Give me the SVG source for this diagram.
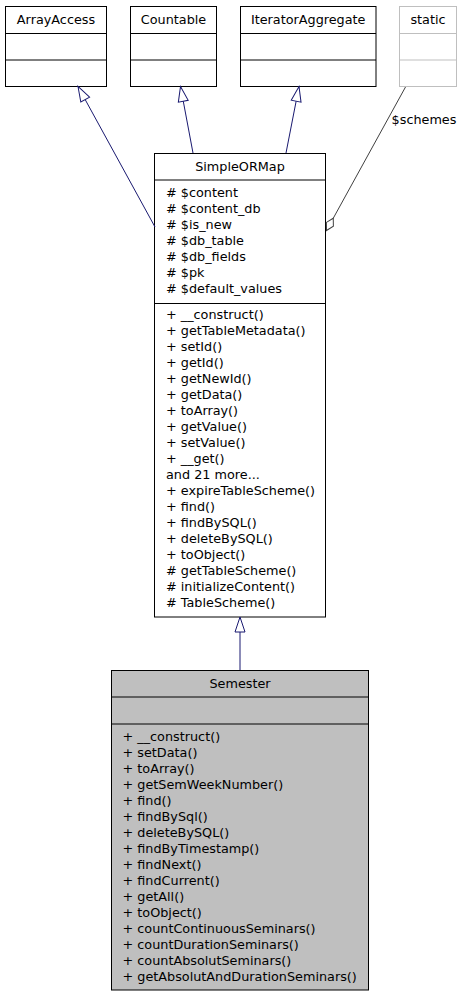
<svg xmlns="http://www.w3.org/2000/svg" width="463" height="997" viewBox="0 0 463 997">
<style>
text{font-family:"DejaVu Sans","Liberation Sans",sans-serif;font-size:12.8px;fill:#000}
.c{text-anchor:middle}
.box{fill:#fff;stroke:#000;stroke-width:1}
.gbox{fill:#fff;stroke:#bfbfbf;stroke-width:1}
.sbox{fill:#bfbfbf;stroke:#000;stroke-width:1}
.ln{stroke:#000;stroke-width:1}
.gln{stroke:#bfbfbf;stroke-width:1}
.inh{stroke:#191970;stroke-width:1;fill:none;marker-end:url(#tri)}
.agg{stroke:#404040;stroke-width:1;fill:none;marker-end:url(#dia)}
</style>
<defs>
<marker id="tri" markerUnits="userSpaceOnUse" markerWidth="18" markerHeight="14" refX="15" refY="7" orient="auto" overflow="visible">
<path d="M0,2 L15,7 L0,12 z" fill="#fff" stroke="#191970" stroke-width="1"/>
</marker>
<marker id="dia" markerUnits="userSpaceOnUse" markerWidth="16" markerHeight="12" refX="14" refY="6" orient="auto" overflow="visible">
<path d="M0,6 L7,2 L14,6 L7,10 z" fill="#fff" stroke="#404040" stroke-width="1"/>
</marker>
</defs>

<g id="ArrayAccess">
<rect class="box" x="5.5" y="6.5" width="101" height="80"/>
<line class="ln" x1="5.5" y1="33.5" x2="106.5" y2="33.5"/>
<line class="ln" x1="5.5" y1="60" x2="106.5" y2="60"/>
<text class="c" x="56" y="24">ArrayAccess</text>
</g>

<g id="Countable">
<rect class="box" x="130.5" y="6.5" width="86" height="80"/>
<line class="ln" x1="130.5" y1="33.5" x2="216.5" y2="33.5"/>
<line class="ln" x1="130.5" y1="60" x2="216.5" y2="60"/>
<text class="c" x="173.5" y="24">Countable</text>
</g>

<g id="IteratorAggregate">
<rect class="box" x="240.5" y="6.5" width="135.5" height="80"/>
<line class="ln" x1="240.5" y1="33.5" x2="376" y2="33.5"/>
<line class="ln" x1="240.5" y1="60" x2="376" y2="60"/>
<text class="c" x="308.2" y="24">IteratorAggregate</text>
</g>

<g id="static">
<rect class="gbox" x="399.5" y="6.5" width="57" height="80"/>
<line class="gln" x1="399.5" y1="33.5" x2="456.5" y2="33.5"/>
<line class="gln" x1="399.5" y1="60" x2="456.5" y2="60"/>
<text class="c" x="428" y="24">static</text>
</g>

<g id="SimpleORMap">
<rect class="box" x="154.5" y="153.5" width="171" height="463.5"/>
<line class="ln" x1="154.5" y1="180" x2="325.5" y2="180"/>
<line class="ln" x1="154.5" y1="303.5" x2="325.5" y2="303.5"/>
<text class="c" x="240" y="171">SimpleORMap</text>
<text x="166" y="196.5"># $content</text>
<text x="166" y="212.5"># $content_db</text>
<text x="166" y="228.5"># $is_new</text>
<text x="166" y="244.5"># $db_table</text>
<text x="166" y="260.5"># $db_fields</text>
<text x="166" y="276.5"># $pk</text>
<text x="166" y="292.5"># $default_values</text>
<text x="166" y="318.5">+ __construct()</text>
<text x="166" y="334.5">+ getTableMetadata()</text>
<text x="166" y="350.5">+ setId()</text>
<text x="166" y="366.5">+ getId()</text>
<text x="166" y="382.5">+ getNewId()</text>
<text x="166" y="398.5">+ getData()</text>
<text x="166" y="414.5">+ toArray()</text>
<text x="166" y="430.5">+ getValue()</text>
<text x="166" y="446.5">+ setValue()</text>
<text x="166" y="462.5">+ __get()</text>
<text x="166" y="478.5">and 21 more...</text>
<text x="166" y="494.5">+ expireTableScheme()</text>
<text x="166" y="510.5">+ find()</text>
<text x="166" y="526.5">+ findBySQL()</text>
<text x="166" y="542.5">+ deleteBySQL()</text>
<text x="166" y="558.5">+ toObject()</text>
<text x="166" y="574.5"># getTableScheme()</text>
<text x="166" y="590.5"># initializeContent()</text>
<text x="166" y="606.5"># TableScheme()</text>
</g>

<g id="Semester">
<rect class="sbox" x="111.5" y="670.5" width="257" height="319.5"/>
<line class="ln" x1="111.5" y1="697" x2="368.5" y2="697"/>
<line class="ln" x1="111.5" y1="724" x2="368.5" y2="724"/>
<text class="c" x="240" y="688.3">Semester</text>
<text x="122.5" y="740.5">+ __construct()</text>
<text x="122.5" y="756.5">+ setData()</text>
<text x="122.5" y="772.5">+ toArray()</text>
<text x="122.5" y="788.5">+ getSemWeekNumber()</text>
<text x="122.5" y="804.5">+ find()</text>
<text x="122.5" y="820.5">+ findBySql()</text>
<text x="122.5" y="836.5">+ deleteBySQL()</text>
<text x="122.5" y="852.5">+ findByTimestamp()</text>
<text x="122.5" y="868.5">+ findNext()</text>
<text x="122.5" y="884.5">+ findCurrent()</text>
<text x="122.5" y="900.5">+ getAll()</text>
<text x="122.5" y="916.5">+ toObject()</text>
<text x="122.5" y="932.5">+ countContinuousSeminars()</text>
<text x="122.5" y="948.5">+ countDurationSeminars()</text>
<text x="122.5" y="964.5">+ countAbsolutSeminars()</text>
<text x="122.5" y="980.5">+ getAbsolutAndDurationSeminars()</text>
</g>

<g id="connectors">
<line class="inh" x1="155" y1="227" x2="78" y2="86.5"/>
<line class="inh" x1="193" y1="153" x2="180.5" y2="86.5"/>
<line class="inh" x1="286" y1="153" x2="299" y2="86.5"/>
<line class="inh" x1="240" y1="670" x2="240" y2="617"/>
<line class="agg" x1="405.5" y1="87" x2="326.5" y2="230.5"/>
<text class="c" x="424" y="123.5">$schemes</text>
</g>
</svg>
